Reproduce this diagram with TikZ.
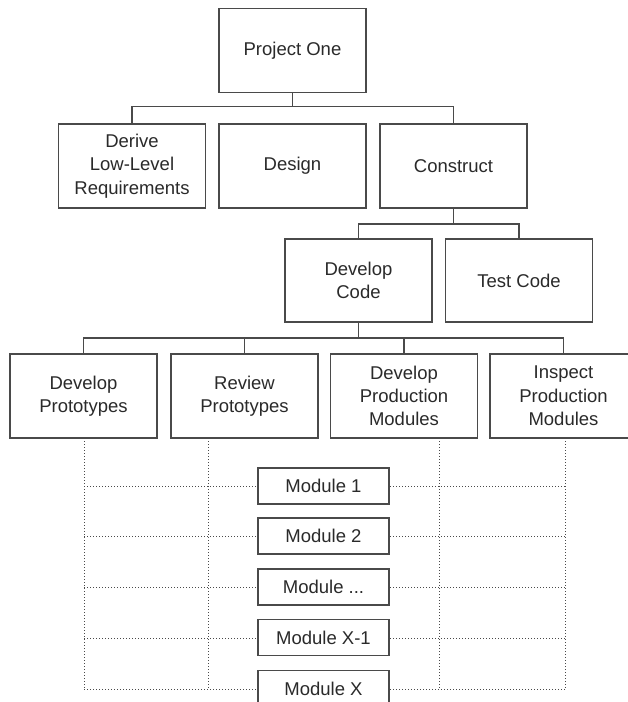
\documentclass[tikz,border=0pt]{standalone}
\usepackage{fontspec}
\setmainfont{Liberation Sans}
\definecolor{inkgray}{HTML}{2A2A2A}
\definecolor{linegray}{HTML}{4A4A4A}
\tikzset{
  task/.style={draw=linegray, line width=1.5pt, fill=white, text=inkgray,
    minimum width=147pt, minimum height=84pt, align=center, inner sep=2pt,
    font=\fontsize{18.5}{23.3}\selectfont},
  modbox/.style={task, minimum width=131pt, minimum height=36pt},
  tree/.style={draw=linegray, line width=1.5pt},
  grid/.style={draw=linegray, line width=1pt, dotted}
}
\begin{document}
\begin{tikzpicture}[x=1pt,y=-1pt]
      \useasboundingbox (0,0) rectangle (628,702);
      % dotted lattice first, boxes go over it
      \draw[grid]
        (84,438) -- (84,689)
        (208,438) -- (208,689)
        (439,438) -- (439,689)
        (565,438) -- (565,689);
      \foreach \y in {486,536,587,638,689}
        \draw[grid] (84,\y) -- (565,\y);
      \draw
        (292.5,50.5) node[task] (proj){Project One}
        (132,166) node[task] (derive){Derive\\Low-Level\\Requirements}
        (292.5,166) node[task] (design){Design}
        (453.5,166) node[task] (construct){Construct}
        (358.5,280.5) node[task, minimum height=83pt] (devcode){Develop\\Code}
        (519,280.5) node[task, minimum height=83pt] (testcode){Test Code}
        (83.5,396) node[task] (devproto){Develop\\Prototypes}
        (244.5,396) node[task] (review){Review\\Prototypes}
        (404,396) node[task] (devprod){Develop\\Production\\Modules}
        (563.5,396) node[task] (inspect){Inspect\\Production\\Modules};
      \draw
        (323.5,486) node[modbox] (mod1){Module 1}
        (323.5,536) node[modbox] (mod2){Module 2}
        (323.5,587) node[modbox] (mod3){Module ...}
        (323.5,637.5) node[modbox] (mod4){Module X-1}
        (323.5,688.5) node[modbox] (mod5){Module X};
      \begin{scope}[tree]
        \draw (proj.south) -- ++(0,13) coordinate (bus1);
        \draw (derive.north) |- (bus1) -| (construct.north);
        \draw (construct.south) -- ++(0,15) coordinate (bus2);
        \draw (devcode.north) |- (bus2) -| (testcode.north);
        \draw (devcode.south) -- ++(0,15) coordinate (bus3);
        \draw (devproto.north) |- (bus3) -| (inspect.north);
        \draw (review.north) -- (review.north |- bus3);
        \draw (devprod.north) -- (devprod.north |- bus3);
      \end{scope}
    \end{tikzpicture}
\end{document}
